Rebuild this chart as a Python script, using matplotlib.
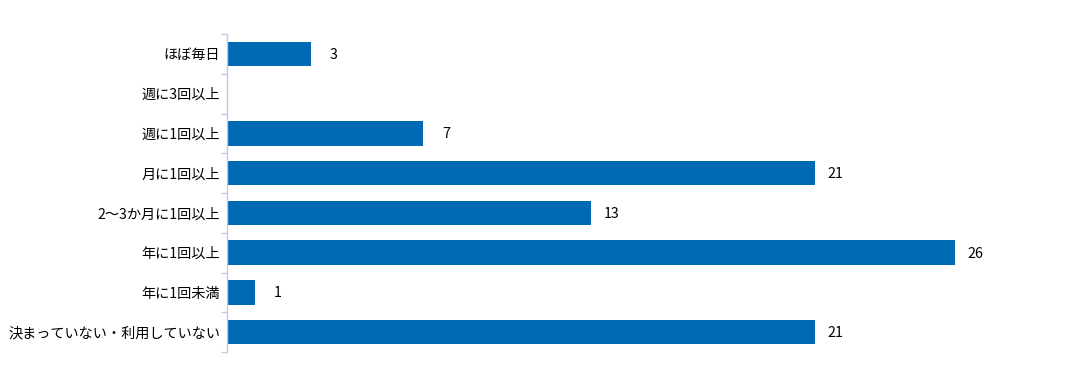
import matplotlib
matplotlib.use("Agg")
import matplotlib.pyplot as plt

plt.rcParams['font.family'] = ['Noto Sans CJK JP', 'DejaVu Sans']

categories = ["ほぼ毎日", "週に3回以上", "週に1回以上", "月に1回以上",
              "2〜3か月に1回以上", "年に1回以上", "年に1回未満",
              "決まっていない・利用していない"]
values = [3, 0, 7, 21, 13, 26, 1, 21]

bar_color = "#0069B4"
axis_color = "#B9CDE5"

fig = plt.figure(figsize=(10.88, 3.67), dpi=100)
ax = fig.add_axes([227/1088, 1 - 352/367, (1067 - 227)/1088, (352 - 34)/367])

n = len(categories)
pos = list(range(n))
ax.barh(pos, values, height=0.62, color=bar_color)
ax.set_ylim(n - 0.5, -0.5)
ax.set_xlim(0, 30)

for p, v in zip(pos, values):
    if v > 0:
        off = 16.5 if v < 10 else 14.5
        ax.annotate(str(v), (v, p), xytext=(off, -0.7), textcoords="offset points",
                    va="center", ha="center", fontsize=10.3, color="#000000")

ax.set_yticks(pos)
ax.set_yticklabels(categories, fontsize=10.2)
ax.set_yticks([i - 0.5 for i in range(n + 1)], minor=True)
ax.tick_params(axis="y", which="major", length=0, pad=5)
ax.tick_params(axis="y", which="minor", length=4, color=axis_color, width=1)
ax.set_xticks([])
for s in ["top", "right", "bottom"]:
    ax.spines[s].set_visible(False)
ax.spines["left"].set_color(axis_color)
ax.spines["left"].set_linewidth(1)

fig.savefig("out.png", dpi=100)
